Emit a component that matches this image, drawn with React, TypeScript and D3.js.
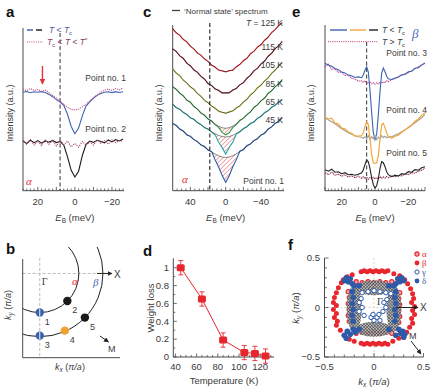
import React from 'react';
import * as d3 from 'd3';

const FONT = "'Liberation Sans', Arial, Helvetica, sans-serif";
const SERIF = "'Liberation Serif', 'Times New Roman', Times, serif";
const AXIS = '#4a4a4a';
const TEXT = '#3a3a3a';

// ---------------- Panel a (alpha band, points 1 & 2) ----------------
const energyA = [28,26,24,22,20,18,16,14,12,10,8,6,4,2,0,-2,-4,-6,-8,-10,-12,-14,-16,-18,-20,-22,-24,-26];
const point1Below = [60.5,61.0,60.2,60.8,60.5,60.9,60.3,59.2,57.8,56.0,54.5,52.5,47.0,39.5,35.0,38.5,46.0,52.0,54.6,56.8,58.6,59.8,60.5,60.8,60.3,60.9,60.4,60.8];
const point1Above = [62.5,61.5,62.8,61.6,62.2,61.0,61.8,60.2,58.5,56.8,55.0,53.0,51.2,50.0,49.6,50.2,51.5,53.2,55.2,57.0,59.0,60.5,61.8,62.5,61.7,62.8,62.0,63.2];
const point2Below = [30.5,29.0,31.0,29.5,30.8,29.2,30.6,29.8,30.9,29.6,30.2,28.0,21.0,12.5,8.4,12.0,21.5,28.5,30.5,29.7,31.0,30.2,29.4,31.2,30.0,31.4,30.6,31.8];
const point2Above = [31,28.5,31.5,28,30.5,27.8,31.2,28.5,30.8,27.5,31.0,28.2,30.5,27.0,29.0,26.8,30.2,27.8,30.0,28.0,31.0,29.2,30.8,28.6,31.2,29.5,30.9,30.2];
const gapEdgeA = 8; // meV, dashed line
const arrowEA = 17.5;

// ---------------- Panel c (temperature dependence, point 1) ----------------
const energyC = [60,56,52,48,44,40,36,32,28,24,20,16,12,8,4,0,-4,-8,-12,-16,-20,-24,-28,-32,-36,-40,-44,-48,-52,-56,-60,-64];
const tempsC = [125, 115, 105, 85, 65, 45];
const tempLabelsC = ['T = 125 K', '115 K', '105 K', '85 K', '65 K', '45 K'];
const normalShapeC = [42.8,39.4,36.0,32.6,29.2,25.9,22.6,19.3,16.1,12.9,9.8,7.0,4.3,2.1,0.6,0,0.6,2.2,4.6,7.5,10.5,13.8,17.2,20.7,24.2,27.7,31.2,34.9,38.5,42.2,45.8,49.4];
const normalBaseC = [119, 97.7, 77.7, 62.4, 53.7, 33.2];
const normalScaleC = [1.0, 1.04, 1.02, 0.98, 0.76, 0.8];
const noiseC = [
  [0.3,-0.8,0.6,-0.4,0.9,-0.6,0.2,-1.0,0.5,-0.3,0.8,-0.5,0.4,-0.7,0.3,-0.2,0.6,-0.9,0.4,-0.3,0.7,-0.6,1.0,-0.4,0.5,-0.8,0.3,-0.5,0.9,-0.2,0.6,-0.7],
  [-0.5,0.7,-0.3,0.9,-0.8,0.4,-0.6,0.8,-0.2,0.6,-0.9,0.3,-0.4,0.5,-0.7,0.2,-0.5,0.8,-0.3,0.6,-0.8,0.4,-0.2,0.9,-0.6,0.3,-0.7,0.5,-0.4,0.8,-0.5,0.3],
  [0.6,-0.4,0.9,-0.7,0.3,-0.5,1.0,-0.3,0.4,-0.8,0.5,-0.2,0.7,-0.6,0.2,-0.4,0.8,-0.3,0.5,-0.9,0.3,-0.6,0.7,-0.2,0.9,-0.5,0.4,-0.8,0.6,-0.3,0.7,-0.4],
  [-0.7,0.5,-0.2,0.8,-0.6,0.9,-0.4,0.3,-0.8,0.6,-0.3,0.7,-0.5,0.4,-0.2,0.5,-0.6,0.3,-0.9,0.7,-0.4,0.2,-0.7,0.8,-0.3,0.6,-0.5,0.9,-0.2,0.4,-0.6,0.5],
  [0.4,-0.9,0.7,-0.3,0.5,-0.7,0.8,-0.5,0.3,-0.6,0.9,-0.4,0.2,-0.5,0.4,-0.3,0.6,-0.4,0.7,-0.8,0.5,-0.2,0.6,-0.9,0.4,-0.5,0.8,-0.3,0.7,-0.6,0.4,-0.8],
  [-0.3,0.8,-0.6,0.4,-0.9,0.5,-0.2,0.7,-0.5,0.9,-0.4,0.3,-0.7,0.5,-0.3,0.2,-0.4,0.6,-0.8,0.3,-0.6,0.9,-0.3,0.5,-0.7,0.4,-0.9,0.6,-0.2,0.5,-0.6,0.3],
];
const gapC = [
  [0,0,0,0,0,0,0,0,0,0,0,0,0,0,0,0,0,0,0,0,0,0,0,0,0,0,0,0,0,0,0,0],
  [0,0,0,0,0,0,0,0,0,0,0,0,0,0,0,0,0,0,0,0,0,0,0,0,0,0,0,0,0,0,0,0],
  [0,0,0,0,0,0,0,0,0,0,0,0,0,0,0,0,0,0,0,0,0,0,0,0,0,0,0,0,0,0,0,0],
  [0,0,0,0,0,0,0,0,0,0,0,0,0,1.5,4.5,7,4.5,1.5,0,0,0,0,0,0,0,0,0,0,0,0,0,0],
  [0,0,0,0,0,0,0,0,0,0,0,0,1.3,6.4,11.5,16.7,11.5,6.4,1.3,0,0,0,0,0,0,0,0,0,0,0,0,0],
  [0,0,0,0,0,0,0,0,0,0,0,0,5,11.7,18.3,25,18.3,11.7,5,0,0,0,0,0,0,0,0,0,0,0,0,0],
];
const colorsC = ['#e4262a', '#7a1a28', '#a8a832', '#3a9a4a', '#2aa8a4', '#2a5ea8'];
const gapEdgeC = 18;

// ---------------- Panel e (beta band, points 3-5) ----------------
const energyE = [30,28,26,24,22,20,18,16,14,12,10,8,7,6,5,4,3,2,1,0,-1,-2,-3,-4,-5,-6,-7,-8,-10,-12,-14,-16,-18,-20,-22,-24,-26,-28,-30];
const point3Below = [127.5,125.8,124.5,122.2,121.0,118.6,117.8,115.6,115.0,113.2,113.8,113.0,116.0,120.5,124.0,118.5,100.0,78.0,58.0,51.0,56.5,76.0,99.0,117.5,122.7,119.0,114.5,112.0,111.2,112.8,113.5,115.8,116.2,118.9,119.5,122.4,123.0,125.6,127.5];
const point3Above = [124,126.5,121.5,121.8,118.5,118.6,115.4,115.8,112.4,111.6,109.5,109.8,108.5,110,108,107.5,109,107,108,106.5,108,106.7,108.5,107.5,109,108,110,109,111,112,114,115.5,117,118,120,122,124,126,128];
const point4Below = [74,71.5,72.5,67.5,66.8,62.5,61.8,58.6,57.5,54.6,54.5,55.2,58,64,69,66,52,36,28,27.4,28,35,52,66,67.4,63,58,54,52.7,54.5,55.6,58.4,60.6,63.5,65.6,69.4,71.5,75.4,77.7];
const point4Above = [73,71,69,67,64.5,62,60,58,56.5,55,54,53.5,52.5,54,52,55,51.5,54,52,55,51,53.5,52,55,53,54.5,53,54,54,55.5,57,59,61,63,65.5,68,70.5,73,76];
const point5Below = [21,19.5,21.5,18.5,19,17,18,16,16.5,15.5,16.5,18,21,26,30.7,29,22,13,6,2.7,5,12,22,29,28,24,19,16,14,15.5,14.5,17,16.5,19,18.5,21,20.5,23,24];
const point5Above = [18,16,18.5,15.5,16.5,14.5,16,13.5,15,13,14.5,12.5,14,12,13.5,11.5,13,12,13.5,11.8,13,12,14,12.5,13.8,12.6,14.2,13,14.5,13.8,15.5,14.8,16.5,16,18,17.5,19.5,20.5,22.5];
const gapEdgeE = 5;

// ---------------- Panel d (weight loss) ----------------
const temperatures = [45, 65, 85, 105, 115, 125];
const weightLoss = [1.0, 0.65, 0.19, 0.05, 0.04, 0.01];
const weightErr = [0.08, 0.08, 0.08, 0.08, 0.08, 0.08];
const tempTicks = [40, 60, 80, 100, 120];
const lossTicks = [0, 0.2, 0.4, 0.6, 0.8, 1];

// ---------------- Panel b (schematic FS) ----------------
const radiusAlpha = 0.39;
const radiusBeta = 0.63;
const kPointsB: [number, number, string, string][] = [
  [0, -0.39, '1', '#3a62ac'],
  [0.275, -0.275, '2', '#1a1a1a'],
  [0, -0.62, '3', '#3a62ac'],
  [0.25, -0.57, '4', '#f2a030'],
  [0.45, -0.44, '5', '#1a1a1a'],
];

// ---------------- Panel f (measured Fermi surfaces) ----------------
const fsBeta: [number, number][] = [
  [-0.13,0.36],[-0.1,0.37],[-0.07,0.36],[-0.04,0.37],[-0.01,0.36],[0.02,0.37],[0.05,0.36],[0.08,0.37],[0.11,0.36],[0.14,0.37],
  [-0.22,0.33],[-0.27,0.31],[0.2,0.34],[0.26,0.32],[0.31,0.28],[-0.31,0.28],
  [-0.33,0.25],[-0.36,0.2],[-0.38,0.15],[-0.4,0.1],[-0.41,0.05],[-0.38,0.02],[-0.41,-0.02],[-0.38,-0.06],[-0.4,-0.1],[-0.37,-0.14],[-0.38,-0.18],[-0.34,-0.23],
  [0.34,0.24],[0.37,0.19],[0.39,0.14],[0.4,0.09],[0.38,0.05],[0.41,0.01],[0.39,-0.03],[0.41,-0.07],[0.38,-0.11],[0.39,-0.16],[0.36,-0.2],[0.33,-0.25],
  [-0.3,-0.28],[-0.25,-0.32],[-0.2,-0.34],[0.19,-0.34],[0.25,-0.31],[0.3,-0.28],
  [-0.13,-0.36],[-0.1,-0.37],[-0.07,-0.36],[-0.04,-0.37],[-0.01,-0.36],[0.02,-0.37],[0.05,-0.36],[0.08,-0.37],[0.11,-0.36],[0.14,-0.37],
];
const fsAlpha: [number, number][] = [
  [-0.18,0.26],[-0.12,0.25],[-0.06,0.26],[0.0,0.25],[0.06,0.26],[0.12,0.25],[0.18,0.26],
  [-0.18,-0.26],[-0.12,-0.25],[-0.06,-0.26],[0,-0.25],[0.06,-0.26],[0.12,-0.25],[0.18,-0.26],
  [-0.26,0.16],[-0.25,0.1],[-0.26,0.04],[-0.25,-0.02],[-0.26,-0.08],[-0.25,-0.14],
  [0.26,0.15],[0.25,0.09],[0.26,0.03],[0.25,-0.03],[0.26,-0.09],[0.25,-0.15],
];
const fsDelta: [number, number][] = [
  [-0.3,0.27],[-0.28,0.3],[-0.26,0.26],[-0.24,0.29],[-0.22,0.24],[-0.2,0.22],
  [0.3,0.27],[0.28,0.3],[0.26,0.26],[0.24,0.29],[0.22,0.24],[0.2,0.22],
  [-0.3,-0.28],[-0.27,-0.24],[-0.24,-0.27],[-0.21,-0.22],[-0.19,-0.25],[-0.28,-0.31],
  [0.3,-0.3],[0.27,-0.26],[0.25,-0.22],[0.29,-0.24],[0.22,-0.28],[0.31,-0.27],
  [-0.22,0.16],[-0.21,0.1],[-0.22,0.04],[-0.21,-0.02],[-0.22,-0.08],[-0.21,-0.14],
  [0.22,0.16],[0.21,0.1],[0.22,0.04],[0.21,-0.02],[0.22,-0.08],[0.21,-0.14],
  [-0.15,0.22],[0.15,0.22],[-0.15,-0.22],[0.15,-0.22],
];
const fsGamma: [number, number][] = [
  [-0.12,0.15],[-0.06,0.16],[0.0,0.17],[0.06,0.16],[0.12,0.15],[0.17,0.14],
  [-0.15,0.05],[-0.12,0.0],[-0.15,-0.04],[-0.1,-0.08],[-0.13,0.09],
  [-0.03,-0.1],[0.0,-0.13],[0.03,-0.1],[0.06,-0.13],[0.05,-0.07],[-0.01,-0.07],
  [0.1,0.05],[0.12,0.0],[0.09,-0.04],[0.13,0.08],
];
const hatchEllipsesF: [number, number, number, number][] = [
  [0, 0.2, 0.19, 0.075],
  [0, -0.22, 0.19, 0.075],
  [-0.2, -0.01, 0.075, 0.235],
  [0.2, -0.01, 0.075, 0.235],
];
const fsTicks = [-0.5, 0, 0.5];

const lin = (xs: number[], ys: number[], sx: any, sy: any) =>
  d3.line<number>().x((_, i) => sx(xs[i])).y((d) => sy(d))(ys) || '';

function EBLabel({ x, y }: { x: number; y: number }) {
  return (
    <text x={x} y={y} textAnchor="middle" fontFamily={FONT} fontSize={9.5} fill={TEXT}>
      <tspan fontStyle="italic">E</tspan>
      <tspan dy={2} fontSize={6.5}>B</tspan>
      <tspan dy={-2}> (meV)</tspan>
    </text>
  );
}

function IntensityLabel({ x, y }: { x: number; y: number }) {
  return (
    <text transform={`translate(${x},${y}) rotate(-90)`} textAnchor="middle" fontFamily={FONT} fontSize={9} fill={TEXT}>
      Intensity (a.u.)
    </text>
  );
}

function XTicks({ scale, values, majorEvery, y, minor = 2.2, major = 3.8 }: any) {
  return (
    <g stroke={AXIS} strokeWidth={0.8}>
      {values.map((v: number, i: number) => {
        const isMaj = Math.abs(v / majorEvery - Math.round(v / majorEvery)) < 1e-6;
        return <line key={i} x1={scale(v)} x2={scale(v)} y1={y} y2={y - (isMaj ? major : minor)} />;
      })}
    </g>
  );
}

export default function App() {
  // ----- scales -----
  const xA = d3.scaleLinear().domain([28, -26.5]).range([23, 124]);
  const yA = d3.scaleLinear().domain([0, 100]).range([190.7, 28]);
  const xC = d3.scaleLinear().domain([60, -66]).range([172.7, 284]);
  const yC = d3.scaleLinear().domain([0, 165]).range([190.7, 25.7]);
  const xE = d3.scaleLinear().domain([30, -30]).range([325, 425]);
  const yE = d3.scaleLinear().domain([0, 165]).range([190.7, 25.7]);
  const xD = d3.scaleLinear().domain([38, 133]).range([173.3, 274]);
  const yD = d3.scaleLinear().domain([0, 1.1]).range([357, 258.8]);
  const xB = d3.scaleLinear().domain([-0.17, 0.78]).range([22.7, 118]);
  const yB = d3.scaleLinear().domain([-0.84, 0.14]).range([357.7, 259.4]);
  const xF = d3.scaleLinear().domain([-0.5, 0.5]).range([324.5, 423.5]);
  const yF = d3.scaleLinear().domain([-0.5, 0.5]).range([357, 258]);

  // ----- panel c tables -----
  const normalC = tempsC.map((_, t) => normalShapeC.map((s) => normalBaseC[t] + normalScaleC[t] * s));
  const measuredC = tempsC.map((_, t) => normalC[t].map((n, i) => n + noiseC[t][i] - gapC[t][i]));

  const hatchAreas = tempsC.map((_, t) => {
    const idx = gapC[t].map((g, i) => (g > 0 ? i : -1)).filter((i) => i >= 0);
    if (!idx.length) return null;
    const lo = idx[0] - 1;
    const hi = idx[idx.length - 1] + 1;
    const ids = d3.range(lo, hi + 1);
    return (
      d3
        .area<number>()
        .x((i) => xC(energyC[i]))
        .y0((i) => yC(normalC[t][i]))
        .y1((i) => yC(normalC[t][i] - gapC[t][i]))(ids) || ''
    );
  });

  const labelYC = [26, 50, 68, 87, 105, 123];

  const ticksA = d3.range(-26, 29, 2);
  const ticksC = d3.range(-65, 60, 5);
  const ticksE = d3.range(-30, 31, 2);
  const ticksDx = d3.range(40, 131, 5);
  const ticksDy = d3.range(0, 1.05, 0.1);
  const ticksF = d3.range(-5, 6, 1).map((v) => v / 10);

  const bOrigin = { x: xB(0), y: yB(0) };
  const rA = xB(radiusAlpha) - xB(0);
  const rB = xB(radiusBeta) - xB(0);

  return (
    <svg width={436} height={392} style={{ position: 'absolute', left: 0, top: 0, background: '#fff' }} fontFamily={FONT}>
      <defs>
        <marker id="arrBlack" viewBox="0 0 10 10" refX={9} refY={5} markerWidth={5} markerHeight={5} orient="auto">
          <path d="M0,0 L10,5 L0,10 z" fill="#222" />
        </marker>
        <marker id="arrRed" viewBox="0 0 10 10" refX={9} refY={5} markerWidth={4} markerHeight={4} orient="auto">
          <path d="M0,0 L10,5 L0,10 z" fill="#e8303a" />
        </marker>
        <pattern id="hatchRed" width={3.2} height={3.2} patternUnits="userSpaceOnUse" patternTransform="rotate(45)">
          <line x1={0} y1={0} x2={0} y2={3.2} stroke="#e23a3a" strokeWidth={0.9} />
        </pattern>
        <pattern id="crossHatch" width={2.2} height={2.2} patternUnits="userSpaceOnUse" patternTransform="rotate(45)">
          <rect width={2.2} height={2.2} fill="#b8b8b8" />
          <line x1={0} y1={0} x2={0} y2={2.2} stroke="#0a0a0a" strokeWidth={0.8} />
          <line x1={0} y1={0} x2={2.2} y2={0} stroke="#0a0a0a" strokeWidth={0.8} />
        </pattern>
        <clipPath id="clipB">
          <rect x={22.7} y={247} width={110} height={110.7} />
        </clipPath>
      </defs>

      {/* ================= Panel a ================= */}
      <text x={6} y={17} fontSize={15} fontWeight="bold" fill="#111">a</text>
      <g>
        <line x1={23} y1={28} x2={23} y2={190.7} stroke={AXIS} strokeWidth={1} />
        <line x1={23} y1={190.7} x2={124} y2={190.7} stroke={AXIS} strokeWidth={1} />
        <XTicks scale={xA} values={ticksA} majorEvery={10} y={190.7} />
        {[20, 0, -20].map((v) => (
          <text key={v} x={xA(v)} y={205} textAnchor="middle" fontSize={9.5} fill={TEXT}>
            {v < 0 ? `\u2212${-v}` : v}
          </text>
        ))}
        <EBLabel x={xA(0)} y={221} />
        <IntensityLabel x={13} y={113} />
        <line x1={xA(gapEdgeA)} x2={xA(gapEdgeA)} y1={33} y2={190.7} stroke="#333" strokeWidth={1} strokeDasharray="4,2.5" />
        {/* legend */}
        <line x1={27} x2={33} y1={30} y2={30} stroke="#3c64b0" strokeWidth={1.5} />
        <line x1={36} x2={42} y1={30} y2={30} stroke="#222" strokeWidth={1.5} />
        <text x={49} y={33} fontSize={8.5} fill="#4a5a9a">
          <tspan fontStyle="italic">T</tspan> &lt; <tspan fontStyle="italic">T</tspan>
          <tspan dy={2} fontSize={6}>c</tspan>
        </text>
        <line x1={27} x2={43} y1={42} y2={42} stroke="#c0508a" strokeWidth={1.1} strokeDasharray="1,1.2" />
        <text x={47} y={45} fontSize={8.5} fill="#8a3a6a">
          <tspan fontStyle="italic">T</tspan>
          <tspan dy={2} fontSize={6}>c</tspan>
          <tspan dy={-2}> &lt; </tspan>
          <tspan fontStyle="italic">T</tspan> &lt; <tspan fontStyle="italic">T</tspan>
          <tspan dy={-3} fontSize={6}>*</tspan>
        </text>
        {/* curves */}
        <path d={lin(energyA, point1Below, xA, yA)} fill="none" stroke="#3c64b0" strokeWidth={1.1} />
        <path d={lin(energyA, point1Above, xA, yA)} fill="none" stroke="#c0508a" strokeWidth={1.1} strokeDasharray="1.2,1" />
        <path d={lin(energyA, point2Below, xA, yA)} fill="none" stroke="#1a1a1a" strokeWidth={1.1} />
        <path d={lin(energyA, point2Above, xA, yA)} fill="none" stroke="#b0506a" strokeWidth={1.1} strokeDasharray="1.2,1" />
        <text x={126} y={81} textAnchor="end" fontSize={8.5} fill={TEXT}>Point no. 1</text>
        <text x={126} y={132} textAnchor="end" fontSize={8.5} fill={TEXT}>Point no. 2</text>
        <line x1={xA(arrowEA)} x2={xA(arrowEA)} y1={66} y2={84} stroke="#e8303a" strokeWidth={1.4} markerEnd="url(#arrRed)" />
        <text x={26} y={185} fontSize={11} fontFamily={SERIF} fontStyle="italic" fill="#e8303a">α</text>
      </g>

      {/* ================= Panel c ================= */}
      <text x={143} y={17} fontSize={15} fontWeight="bold" fill="#111">c</text>
      <g>
        <line x1={172.7} y1={25} x2={172.7} y2={190.7} stroke={AXIS} strokeWidth={1} />
        <line x1={172.7} y1={190.7} x2={284} y2={190.7} stroke={AXIS} strokeWidth={1} />
        <XTicks scale={xC} values={ticksC} majorEvery={20} y={190.7} />
        {[40, 0, -40].map((v) => (
          <text key={v} x={xC(v)} y={205} textAnchor="middle" fontSize={9.5} fill={TEXT}>
            {v < 0 ? `\u2212${-v}` : v}
          </text>
        ))}
        <EBLabel x={xC(0)} y={221} />
        <IntensityLabel x={162} y={113} />
        <line x1={172} x2={180} y1={10.5} y2={10.5} stroke="#444" strokeWidth={1.3} />
        <text x={184} y={13.5} fontSize={8} fill={TEXT}>‘Normal state’ spectrum</text>
        {hatchAreas.map((d, t) => (d ? <path key={t} d={d} fill="url(#hatchRed)" stroke="none" /> : null))}
        {tempsC.map((_, t) => (
          <path key={`m${t}`} d={lin(energyC, measuredC[t], xC, yC)} fill="none" stroke={colorsC[t]} strokeWidth={1.1} />
        ))}
        {tempsC.map((_, t) => (
          <path key={`n${t}`} d={lin(energyC, normalC[t], xC, yC)} fill="none" stroke="#1a1a1a" strokeWidth={0.6} opacity={0.85} />
        ))}
        <line x1={xC(gapEdgeC)} x2={xC(gapEdgeC)} y1={23} y2={190.7} stroke="#222" strokeWidth={1.1} strokeDasharray="4,2.5" />
        {tempLabelsC.map((l, t) => (
          <text key={l} x={283} y={labelYC[t]} textAnchor="end" fontSize={8.5} fill={TEXT}>
            {t === 0 ? (
              <>
                <tspan fontStyle="italic">T</tspan> = 125 K
              </>
            ) : (
              l
            )}
          </text>
        ))}
        <text x={284} y={184} textAnchor="end" fontSize={8.5} fill={TEXT}>Point no. 1</text>
        <text x={182} y={183} fontSize={11} fontFamily={SERIF} fontStyle="italic" fill="#e8303a">α</text>
      </g>

      {/* ================= Panel e ================= */}
      <text x={292} y={17} fontSize={15} fontWeight="bold" fill="#111">e</text>
      <g>
        <line x1={325} y1={25} x2={325} y2={190.7} stroke={AXIS} strokeWidth={1} />
        <line x1={325} y1={190.7} x2={425} y2={190.7} stroke={AXIS} strokeWidth={1} />
        <XTicks scale={xE} values={ticksE} majorEvery={10} y={190.7} />
        {[20, 0, -20].map((v) => (
          <text key={v} x={xE(v)} y={205} textAnchor="middle" fontSize={9.5} fill={TEXT}>
            {v < 0 ? `\u2212${-v}` : v}
          </text>
        ))}
        <EBLabel x={xE(0)} y={221} />
        <IntensityLabel x={314} y={113} />
        <line x1={xE(gapEdgeE)} x2={xE(gapEdgeE)} y1={42} y2={190.7} stroke="#333" strokeWidth={1} strokeDasharray="4,2.5" />
        {/* legend */}
        <line x1={330} x2={347} y1={30} y2={30} stroke="#3a64b2" strokeWidth={1.4} />
        <line x1={350} x2={366} y1={30} y2={30} stroke="#f2a73a" strokeWidth={1.4} />
        <line x1={369} x2={378} y1={30} y2={30} stroke="#222" strokeWidth={1.4} />
        <text x={382} y={33} fontSize={8.5} fill={TEXT}>
          <tspan fontStyle="italic">T</tspan> &lt; <tspan fontStyle="italic">T</tspan>
          <tspan dy={2} fontSize={6}>c</tspan>
        </text>
        <line x1={328} x2={378} y1={41.7} y2={41.7} stroke="#c0306a" strokeWidth={1} strokeDasharray="1,1.2" />
        <text x={382} y={44.5} fontSize={8.5} fill={TEXT}>
          <tspan fontStyle="italic">T</tspan> &gt; <tspan fontStyle="italic">T</tspan>
          <tspan dy={2} fontSize={6}>c</tspan>
        </text>
        <text x={412} y={38} fontSize={13} fontFamily={SERIF} fontStyle="italic" fill="#4a6ab8">β</text>
        {/* curves */}
        <path d={lin(energyE, point3Above, xE, yE)} fill="none" stroke="#c0408a" strokeWidth={1.1} strokeDasharray="1.2,0.8" />
        <path d={lin(energyE, point3Below, xE, yE)} fill="none" stroke="#3a64b2" strokeWidth={1.1} />
        <path d={lin(energyE, point4Above, xE, yE)} fill="none" stroke="#a0a0a0" strokeWidth={1.1} />
        <path d={lin(energyE, point4Below, xE, yE)} fill="none" stroke="#f2a73a" strokeWidth={1.2} />
        <path d={lin(energyE, point5Above, xE, yE)} fill="none" stroke="#8a2048" strokeWidth={1.1} strokeDasharray="1.2,0.8" />
        <path d={lin(energyE, point5Below, xE, yE)} fill="none" stroke="#222" strokeWidth={1.1} />
        <text x={427} y={56} textAnchor="end" fontSize={8.5} fill={TEXT}>Point no. 3</text>
        <text x={427} y={113} textAnchor="end" fontSize={8.5} fill={TEXT}>Point no. 4</text>
        <text x={427} y={156} textAnchor="end" fontSize={8.5} fill={TEXT}>Point no. 5</text>
      </g>

      {/* ================= Panel b ================= */}
      <text x={6} y={254} fontSize={15} fontWeight="bold" fill="#111">b</text>
      <g>
        <line x1={xB(0)} x2={xB(0)} y1={258} y2={357.7} stroke="#bbb" strokeWidth={1} strokeDasharray="3,2" />
        <line x1={22.7} x2={97} y1={bOrigin.y} y2={bOrigin.y} stroke="#bbb" strokeWidth={1} strokeDasharray="3,2" />
        <line x1={97} x2={112} y1={bOrigin.y} y2={bOrigin.y} stroke="#222" strokeWidth={1} markerEnd="url(#arrBlack)" />
        <text x={114} y={277.5} fontSize={10} fill={TEXT}>X</text>
        <g clipPath="url(#clipB)">
          <circle cx={bOrigin.x} cy={bOrigin.y} r={rA} fill="none" stroke="#222" strokeWidth={1} />
          <circle cx={bOrigin.x} cy={bOrigin.y} r={rB} fill="none" stroke="#222" strokeWidth={1} />
        </g>
        <line x1={22.7} y1={259} x2={22.7} y2={357.7} stroke={AXIS} strokeWidth={1} />
        <line x1={22.7} y1={357.7} x2={120} y2={357.7} stroke={AXIS} strokeWidth={1} />
        <text x={bOrigin.x + 2} y={285} fontSize={10} fontFamily={SERIF} fill={TEXT}>Γ</text>
        <text x={72} y={285} fontSize={11} fontFamily={SERIF} fontStyle="italic" fill="#e8303a">α</text>
        <text x={93} y={286} fontSize={11} fontFamily={SERIF} fontStyle="italic" fill="#4a6ab8">β</text>
        {kPointsB.map(([kx, ky, lab, col]) => (
          <g key={lab}>
            <circle cx={xB(kx)} cy={yB(ky)} r={4.2} fill={col} />
            {col === '#3a62ac' ? (
              <line x1={xB(kx)} x2={xB(kx)} y1={yB(ky) - 4} y2={yB(ky) + 4} stroke="#fff" strokeWidth={1} opacity={0.9} />
            ) : null}
            <text x={xB(kx) + 5} y={yB(ky) + 12} fontSize={9} fill={TEXT}>{lab}</text>
          </g>
        ))}
        <line x1={100} y1={336} x2={108.5} y2={342} stroke="#222" strokeWidth={1} markerEnd="url(#arrBlack)" />
        <text x={108} y={352} fontSize={9} fill={TEXT}>M</text>
        <text transform="translate(11,305) rotate(-90)" textAnchor="middle" fontSize={9} fill={TEXT}>
          <tspan fontStyle="italic">k</tspan>
          <tspan dy={2} fontSize={6.5} fontStyle="italic">y</tspan>
          <tspan dy={-2}> (</tspan>
          <tspan fontStyle="italic">π/a</tspan>)
        </text>
        <text x={70} y={370} textAnchor="middle" fontSize={9} fill={TEXT}>
          <tspan fontStyle="italic">k</tspan>
          <tspan dy={2} fontSize={6.5} fontStyle="italic">x</tspan>
          <tspan dy={-2}> (</tspan>
          <tspan fontStyle="italic">π/a</tspan>)
        </text>
      </g>

      {/* ================= Panel d ================= */}
      <text x={143} y={256} fontSize={15} fontWeight="bold" fill="#111">d</text>
      <g>
        <line x1={173.3} y1={258.3} x2={173.3} y2={357} stroke={AXIS} strokeWidth={1} />
        <line x1={173.3} y1={357} x2={274} y2={357} stroke={AXIS} strokeWidth={1} />
        <XTicks scale={xD} values={ticksDx} majorEvery={20} y={357} minor={2} major={3.5} />
        <g stroke={AXIS} strokeWidth={0.8}>
          {ticksDy.map((v, i) => (
            <line key={i} x1={173.3} x2={173.3 + (i % 2 === 0 ? 3.5 : 2)} y1={yD(v)} y2={yD(v)} />
          ))}
        </g>
        {lossTicks.map((v) => (
          <text key={v} x={169} y={yD(v) + 3.3} textAnchor="end" fontSize={9.5} fill={TEXT}>{v}</text>
        ))}
        {tempTicks.map((v) => (
          <text key={v} x={xD(v)} y={370} textAnchor="middle" fontSize={9.5} fill={TEXT}>{v}</text>
        ))}
        <text x={224} y={384} textAnchor="middle" fontSize={9.5} fill={TEXT}>Temperature (K)</text>
        <text transform="translate(154,308) rotate(-90)" textAnchor="middle" fontSize={9.5} fill={TEXT}>Weight loss</text>
        <path d={lin(temperatures, weightLoss, xD, yD)} fill="none" stroke="#e8262e" strokeWidth={1} />
        {temperatures.map((t, i) => (
          <g key={t} stroke="#e8262e" strokeWidth={0.9}>
            <line x1={xD(t)} x2={xD(t)} y1={yD(weightLoss[i] - weightErr[i])} y2={yD(weightLoss[i] + weightErr[i])} />
            <line x1={xD(t) - 2.5} x2={xD(t) + 2.5} y1={yD(weightLoss[i] + weightErr[i])} y2={yD(weightLoss[i] + weightErr[i])} />
            <line x1={xD(t) - 2.5} x2={xD(t) + 2.5} y1={yD(weightLoss[i] - weightErr[i])} y2={yD(weightLoss[i] - weightErr[i])} />
            <rect x={xD(t) - 4} y={yD(weightLoss[i]) - 3.5} width={8} height={7} rx={1.5} fill="#e8262e" stroke="none" />
          </g>
        ))}
      </g>

      {/* ================= Panel f ================= */}
      <text x={288} y={250} fontSize={15} fontWeight="bold" fill="#111">f</text>
      <g>
        <line x1={xF(0)} x2={xF(0)} y1={258} y2={357} stroke="#ccc" strokeWidth={0.8} strokeDasharray="2,2" />
        <line x1={324.5} x2={423.5} y1={yF(0)} y2={yF(0)} stroke="#ccc" strokeWidth={0.8} strokeDasharray="2,2" />
        {fsBeta.map(([x, y], i) => (
          <circle key={`b${i}`} cx={xF(x)} cy={yF(y)} r={2.5} fill="#e8262e" />
        ))}
        {fsAlpha.map(([x, y], i) => (
          <circle key={`a${i}`} cx={xF(x)} cy={yF(y)} r={2.1} fill="#f4a0a8" stroke="#e8262e" strokeWidth={1.1} />
        ))}
        {hatchEllipsesF.map(([cx, cy, rx, ry], i) => (
          <ellipse key={`h${i}`} cx={xF(cx)} cy={yF(cy)} rx={xF(rx) - xF(0)} ry={yF(0) - yF(ry)} fill="url(#crossHatch)" opacity={0.9} />
        ))}
        {fsDelta.map(([x, y], i) => (
          <circle key={`d${i}`} cx={xF(x)} cy={yF(y)} r={2.8} fill="#2f5aa8" />
        ))}
        {fsGamma.map(([x, y], i) => (
          <circle key={`g${i}`} cx={xF(x)} cy={yF(y)} r={2.2} fill="#fff" stroke="#2f5aa8" strokeWidth={1} />
        ))}
        <line x1={324.5} y1={258} x2={324.5} y2={357} stroke={AXIS} strokeWidth={1} />
        <line x1={324.5} y1={357} x2={423.5} y2={357} stroke={AXIS} strokeWidth={1} />
        <g stroke={AXIS} strokeWidth={0.8}>
          {ticksF.map((v, i) => (
            <line key={`tx${i}`} x1={xF(v)} x2={xF(v)} y1={357} y2={357 - (i % 5 === 0 ? 4 : 2.5)} />
          ))}
          {ticksF.map((v, i) => (
            <line key={`ty${i}`} x1={324.5} x2={324.5 + (i % 5 === 0 ? 4 : 2.5)} y1={yF(v)} y2={yF(v)} />
          ))}
        </g>
        {fsTicks.map((v) => (
          <text key={`lx${v}`} x={xF(v)} y={370} textAnchor="middle" fontSize={9.5} fill={TEXT}>
            {v < 0 ? `\u2212${-v}` : v}
          </text>
        ))}
        {fsTicks.map((v) => (
          <text key={`ly${v}`} x={320} y={yF(v) + 3.3} textAnchor="end" fontSize={9.5} fill={TEXT}>
            {v < 0 ? `\u2212${-v}` : v}
          </text>
        ))}
        <text x={377} y={305} fontSize={10} fontFamily={SERIF} fill={TEXT}>Γ</text>
        <line x1={396} x2={418} y1={yF(0)} y2={yF(0)} stroke="#222" strokeWidth={1} markerEnd="url(#arrBlack)" />
        <text x={420} y={311} fontSize={10} fill={TEXT}>X</text>
        <line x1={411} y1={341} x2={421} y2={354} stroke="#222" strokeWidth={1} markerEnd="url(#arrBlack)" />
        <text x={409} y={339} fontSize={9} fill={TEXT}>M</text>
        {/* legend */}
        <circle cx={417} cy={254} r={2.1} fill="#f4a0a8" stroke="#e8262e" strokeWidth={1.1} />
        <circle cx={417} cy={263} r={2.4} fill="#e8262e" />
        <circle cx={417} cy={272} r={2.1} fill="#fff" stroke="#2f5aa8" strokeWidth={1} />
        <circle cx={417} cy={281} r={2.4} fill="#2f5aa8" />
        <text x={422} y={257} fontSize={9} fontFamily={SERIF} fill="#e8262e">α</text>
        <text x={422} y={266} fontSize={9} fontFamily={SERIF} fill="#e8262e">β</text>
        <text x={422} y={275} fontSize={9} fontFamily={SERIF} fill="#2f5aa8">γ</text>
        <text x={422} y={284} fontSize={9} fontFamily={SERIF} fill="#2f5aa8">δ</text>
        <text transform="translate(299,308) rotate(-90)" textAnchor="middle" fontSize={9.5} fill={TEXT}>
          <tspan fontStyle="italic">k</tspan>
          <tspan dy={2} fontSize={6.5} fontStyle="italic">y</tspan>
          <tspan dy={-2}> (</tspan>
          <tspan fontStyle="italic">π/a</tspan>)
        </text>
        <text x={374} y={385} textAnchor="middle" fontSize={9.5} fill={TEXT}>
          <tspan fontStyle="italic">k</tspan>
          <tspan dy={2} fontSize={6.5} fontStyle="italic">x</tspan>
          <tspan dy={-2}> (</tspan>
          <tspan fontStyle="italic">π/a</tspan>)
        </text>
      </g>
    </svg>
  );
}
